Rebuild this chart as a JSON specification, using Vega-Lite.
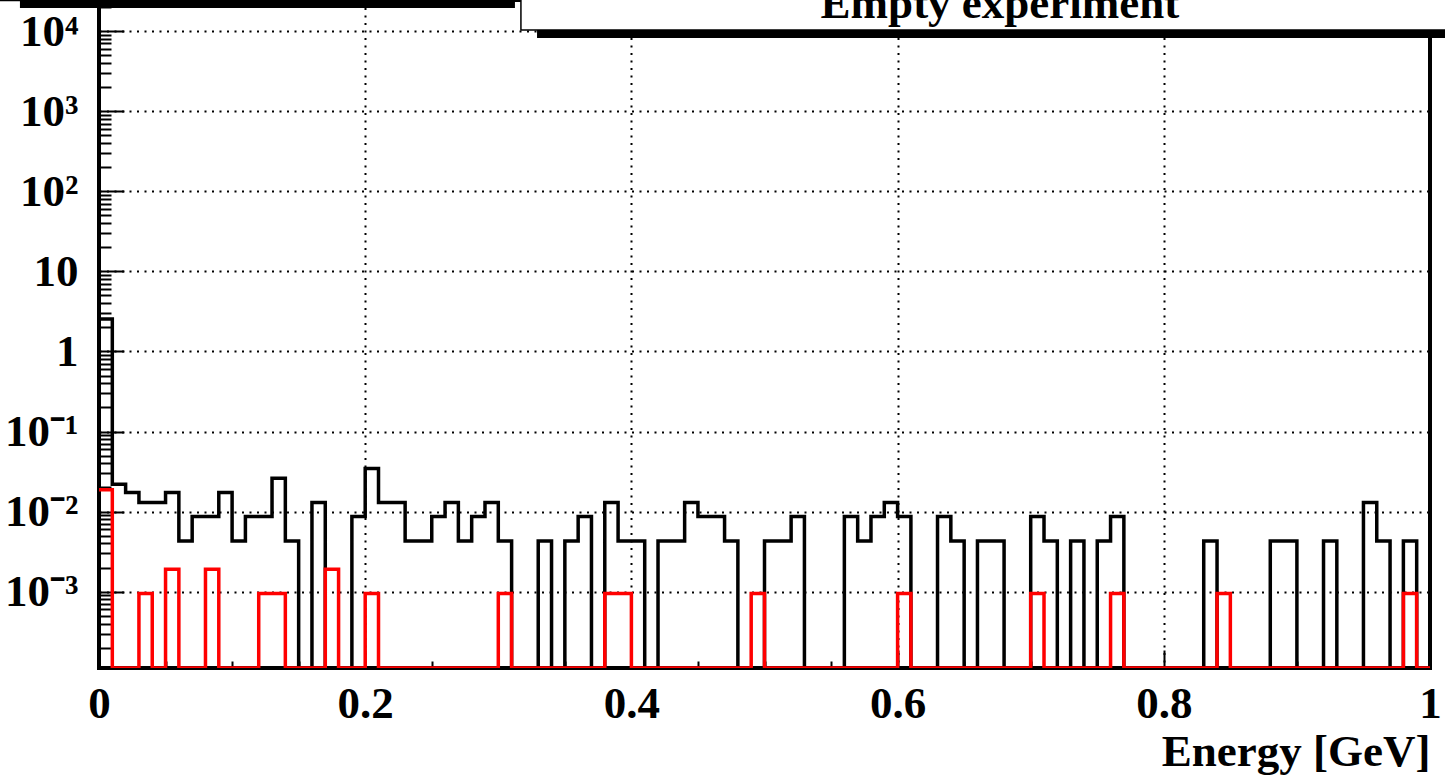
{
  "$schema": "https://vega.github.io/schema/vega-lite/v6.json",
  "width": 1331,
  "height": 668,
  "autosize": "none",
  "padding": {"left": 99, "top": 0, "right": 15, "bottom": 112},
  "background": "white",
  "config": {"view": {"stroke": "black", "strokeWidth": 4}, "font": "Liberation Serif"},
  "data": {"values": [
    {"e":0.00,"b":2.54,"r":0.0187},{"e":0.01,"b":0.022,"r":0.0001115},{"e":0.02,"b":0.0173,"r":0.0001115},{"e":0.03,"b":0.013,"r":0.00095},{"e":0.04,"b":0.013,"r":0.0001115},
    {"e":0.05,"b":0.0173,"r":0.0019},{"e":0.06,"b":0.0043,"r":0.0001115},{"e":0.07,"b":0.0087,"r":0.0001115},{"e":0.08,"b":0.0087,"r":0.0019},{"e":0.09,"b":0.0173,"r":0.0001115},
    {"e":0.10,"b":0.0043,"r":0.0001115},{"e":0.11,"b":0.0087,"r":0.0001115},{"e":0.12,"b":0.0087,"r":0.00095},{"e":0.13,"b":0.026,"r":0.00095},{"e":0.14,"b":0.0043,"r":0.0001115},
    {"e":0.15,"b":0.0001115,"r":0.0001115},{"e":0.16,"b":0.013,"r":0.0001115},{"e":0.17,"b":0.0001115,"r":0.0019},{"e":0.18,"b":0.0001115,"r":0.0001115},{"e":0.19,"b":0.0087,"r":0.0001115},
    {"e":0.20,"b":0.0346,"r":0.00095},{"e":0.21,"b":0.013,"r":0.0001115},{"e":0.22,"b":0.013,"r":0.0001115},{"e":0.23,"b":0.0043,"r":0.0001115},{"e":0.24,"b":0.0043,"r":0.0001115},
    {"e":0.25,"b":0.0087,"r":0.0001115},{"e":0.26,"b":0.013,"r":0.0001115},{"e":0.27,"b":0.0043,"r":0.0001115},{"e":0.28,"b":0.0087,"r":0.0001115},{"e":0.29,"b":0.013,"r":0.0001115},
    {"e":0.30,"b":0.0043,"r":0.00095},{"e":0.31,"b":0.0001115,"r":0.0001115},{"e":0.32,"b":0.0001115,"r":0.0001115},{"e":0.33,"b":0.0043,"r":0.0001115},{"e":0.34,"b":0.0001115,"r":0.0001115},
    {"e":0.35,"b":0.0043,"r":0.0001115},{"e":0.36,"b":0.0087,"r":0.0001115},{"e":0.37,"b":0.0001115,"r":0.0001115},{"e":0.38,"b":0.013,"r":0.00095},{"e":0.39,"b":0.0043,"r":0.00095},
    {"e":0.40,"b":0.0043,"r":0.0001115},{"e":0.41,"b":0.0001115,"r":0.0001115},{"e":0.42,"b":0.0043,"r":0.0001115},{"e":0.43,"b":0.0043,"r":0.0001115},{"e":0.44,"b":0.013,"r":0.0001115},
    {"e":0.45,"b":0.0087,"r":0.0001115},{"e":0.46,"b":0.0087,"r":0.0001115},{"e":0.47,"b":0.0043,"r":0.0001115},{"e":0.48,"b":0.0001115,"r":0.0001115},{"e":0.49,"b":0.0001115,"r":0.00095},
    {"e":0.50,"b":0.0043,"r":0.0001115},{"e":0.51,"b":0.0043,"r":0.0001115},{"e":0.52,"b":0.0087,"r":0.0001115},{"e":0.53,"b":0.0001115,"r":0.0001115},{"e":0.54,"b":0.0001115,"r":0.0001115},
    {"e":0.55,"b":0.0001115,"r":0.0001115},{"e":0.56,"b":0.0087,"r":0.0001115},{"e":0.57,"b":0.0043,"r":0.0001115},{"e":0.58,"b":0.0087,"r":0.0001115},{"e":0.59,"b":0.013,"r":0.0001115},
    {"e":0.60,"b":0.0087,"r":0.00095},{"e":0.61,"b":0.0001115,"r":0.0001115},{"e":0.62,"b":0.0001115,"r":0.0001115},{"e":0.63,"b":0.0087,"r":0.0001115},{"e":0.64,"b":0.0043,"r":0.0001115},
    {"e":0.65,"b":0.0001115,"r":0.0001115},{"e":0.66,"b":0.0043,"r":0.0001115},{"e":0.67,"b":0.0043,"r":0.0001115},{"e":0.68,"b":0.0001115,"r":0.0001115},{"e":0.69,"b":0.0001115,"r":0.0001115},
    {"e":0.70,"b":0.0087,"r":0.00095},{"e":0.71,"b":0.0043,"r":0.0001115},{"e":0.72,"b":0.0001115,"r":0.0001115},{"e":0.73,"b":0.0043,"r":0.0001115},{"e":0.74,"b":0.0001115,"r":0.0001115},
    {"e":0.75,"b":0.0043,"r":0.0001115},{"e":0.76,"b":0.0087,"r":0.00095},{"e":0.77,"b":0.0001115,"r":0.0001115},{"e":0.78,"b":0.0001115,"r":0.0001115},{"e":0.79,"b":0.0001115,"r":0.0001115},
    {"e":0.80,"b":0.0001115,"r":0.0001115},{"e":0.81,"b":0.0001115,"r":0.0001115},{"e":0.82,"b":0.0001115,"r":0.0001115},{"e":0.83,"b":0.0043,"r":0.0001115},{"e":0.84,"b":0.0001115,"r":0.00095},
    {"e":0.85,"b":0.0001115,"r":0.0001115},{"e":0.86,"b":0.0001115,"r":0.0001115},{"e":0.87,"b":0.0001115,"r":0.0001115},{"e":0.88,"b":0.0043,"r":0.0001115},{"e":0.89,"b":0.0043,"r":0.0001115},
    {"e":0.90,"b":0.0001115,"r":0.0001115},{"e":0.91,"b":0.0001115,"r":0.0001115},{"e":0.92,"b":0.0043,"r":0.0001115},{"e":0.93,"b":0.0001115,"r":0.0001115},{"e":0.94,"b":0.0001115,"r":0.0001115},
    {"e":0.95,"b":0.013,"r":0.0001115},{"e":0.96,"b":0.0043,"r":0.0001115},{"e":0.97,"b":0.0001115,"r":0.0001115},{"e":0.98,"b":0.0043,"r":0.00095},{"e":0.99,"b":0.0001115,"r":0.0001115},
    {"e":1.00,"b":0.0001115,"r":0.0001115}
  ]},
  "layer": [
    {
      "mark": {"type": "line", "interpolate": "step-after", "color": "black", "strokeWidth": 3.5, "strokeJoin": "miter", "clip": true},
      "encoding": {
        "x": {"field": "e", "type": "quantitative",
          "scale": {"domain": [0, 1], "nice": false, "zero": false},
          "axis": {
            "values": [0,0.05,0.1,0.15,0.2,0.25,0.3,0.35,0.4,0.45,0.5,0.55,0.6,0.65,0.7,0.75,0.8,0.85,0.9,0.95,1],
            "labelExpr": "abs(datum.value*5 - round(datum.value*5)) < 0.001 ? format(datum.value, '~g') : ''",
            "domain": false,
            "ticks": true, "tickColor": "black", "tickWidth": 2,
            "tickSize": {"condition": {"test": "abs(datum.value*5 - round(datum.value*5)) < 0.001", "value": -18}, "value": -7},
            "grid": true, "gridColor": "black", "gridWidth": 2, "gridDash": [2, 5.5],
            "gridOpacity": {"condition": {"test": "abs(datum.value*5 - round(datum.value*5)) < 0.001", "value": 1}, "value": 0},
            "labelFont": "Liberation Serif", "labelFontSize": 45, "labelFontWeight": "bold", "labelColor": "black",
            "labelAlign": "center", "labelBaseline": "top", "labelPadding": 31, "labelFlush": false, "labelOverlap": false, "labelBound": false,
            "title": "Energy [GeV]", "titleFont": "Liberation Serif", "titleFontSize": 45, "titleFontWeight": "bold", "titleColor": "black",
            "titleAlign": "right", "titleAnchor": "end", "titleBaseline": "alphabetic", "titleX": 1331, "titleY": 97
          }
        },
        "y": {"field": "b", "type": "quantitative",
          "scale": {"type": "log", "domain": [0.0001115, 24400], "nice": false},
          "axis": {
            "values": [0.0002,0.0003,0.0004,0.0005,0.0006,0.0007,0.0008,0.0009,0.001,0.002,0.003,0.004,0.005,0.006,0.007,0.008,0.009,0.01,0.02,0.03,0.04,0.05,0.06,0.07,0.08,0.09,0.1,0.2,0.3,0.4,0.5,0.6,0.7,0.8,0.9,1,2,3,4,5,6,7,8,9,10,20,30,40,50,60,70,80,90,100,200,300,400,500,600,700,800,900,1000,2000,3000,4000,5000,6000,7000,8000,9000,10000,20000],
            "labelExpr": "abs(log(datum.value)/LN10 - round(log(datum.value)/LN10)) > 0.01 ? '' : ['10⁻³','10⁻²','10⁻¹','1','10','10²','10³','10⁴'][round(log(datum.value)/LN10)+3]",
            "domain": false,
            "ticks": true, "tickColor": "black", "tickWidth": 2,
            "tickSize": {"condition": {"test": "abs(log(datum.value)/LN10 - round(log(datum.value)/LN10)) < 0.01", "value": -25}, "value": -12},
            "grid": true, "gridColor": "black", "gridWidth": 2, "gridDash": [2, 5.5],
            "gridOpacity": {"condition": {"test": "abs(log(datum.value)/LN10 - round(log(datum.value)/LN10)) < 0.01", "value": 1}, "value": 0},
            "labelFont": "Liberation Serif", "labelFontSize": 45, "labelFontWeight": "bold", "labelColor": "black",
            "labelAlign": "right", "labelBaseline": "middle", "labelPadding": 46, "labelOverlap": false, "labelBound": false, "labelFlush": false,
            "title": null
          }
        }
      }
    },
    {
      "mark": {"type": "line", "interpolate": "step-after", "color": "#ff0000", "strokeWidth": 3.5, "strokeJoin": "miter", "clip": true},
      "encoding": {
        "x": {"field": "e", "type": "quantitative"},
        "y": {"field": "r", "type": "quantitative"}
      }
    },
    {
      "data": {"values": [{}]},
      "mark": {"type": "rect", "color": "black", "clip": false},
      "encoding": {
        "x": {"datum": -0.0594}, "x2": {"datum": 0.3125},
        "y": {"datum": 19390}, "y2": {"datum": 100000}
      }
    },
    {
      "data": {"values": [{}]},
      "mark": {"type": "rect", "fill": "white", "stroke": "black", "strokeWidth": 1.5, "clip": false},
      "encoding": {
        "x": {"datum": -0.0744}, "x2": {"datum": 0.2998},
        "y": {"datum": 24050}, "y2": {"datum": 100000}
      }
    },
    {
      "data": {"values": [{}]},
      "mark": {"type": "rect", "color": "black", "clip": false},
      "encoding": {
        "x": {"datum": 0.3291}, "x2": {"datum": 1.2},
        "y": {"datum": 8184}, "y2": {"datum": 100000}
      }
    },
    {
      "data": {"values": [{}]},
      "mark": {"type": "rect", "fill": "white", "stroke": "black", "strokeWidth": 1.5, "clip": false},
      "encoding": {
        "x": {"datum": 0.3170}, "x2": {"datum": 1.2},
        "y": {"datum": 10300}, "y2": {"datum": 100000}
      }
    },
    {
      "data": {"values": [{"t": "Empty experiment"}]},
      "mark": {"type": "text", "font": "Liberation Serif", "fontSize": 45, "fontWeight": "bold", "color": "black", "align": "center", "baseline": "alphabetic", "clip": false},
      "encoding": {
        "text": {"field": "t"},
        "x": {"datum": 0.6769},
        "y": {"datum": 14550}
      }
    }
  ]
}
